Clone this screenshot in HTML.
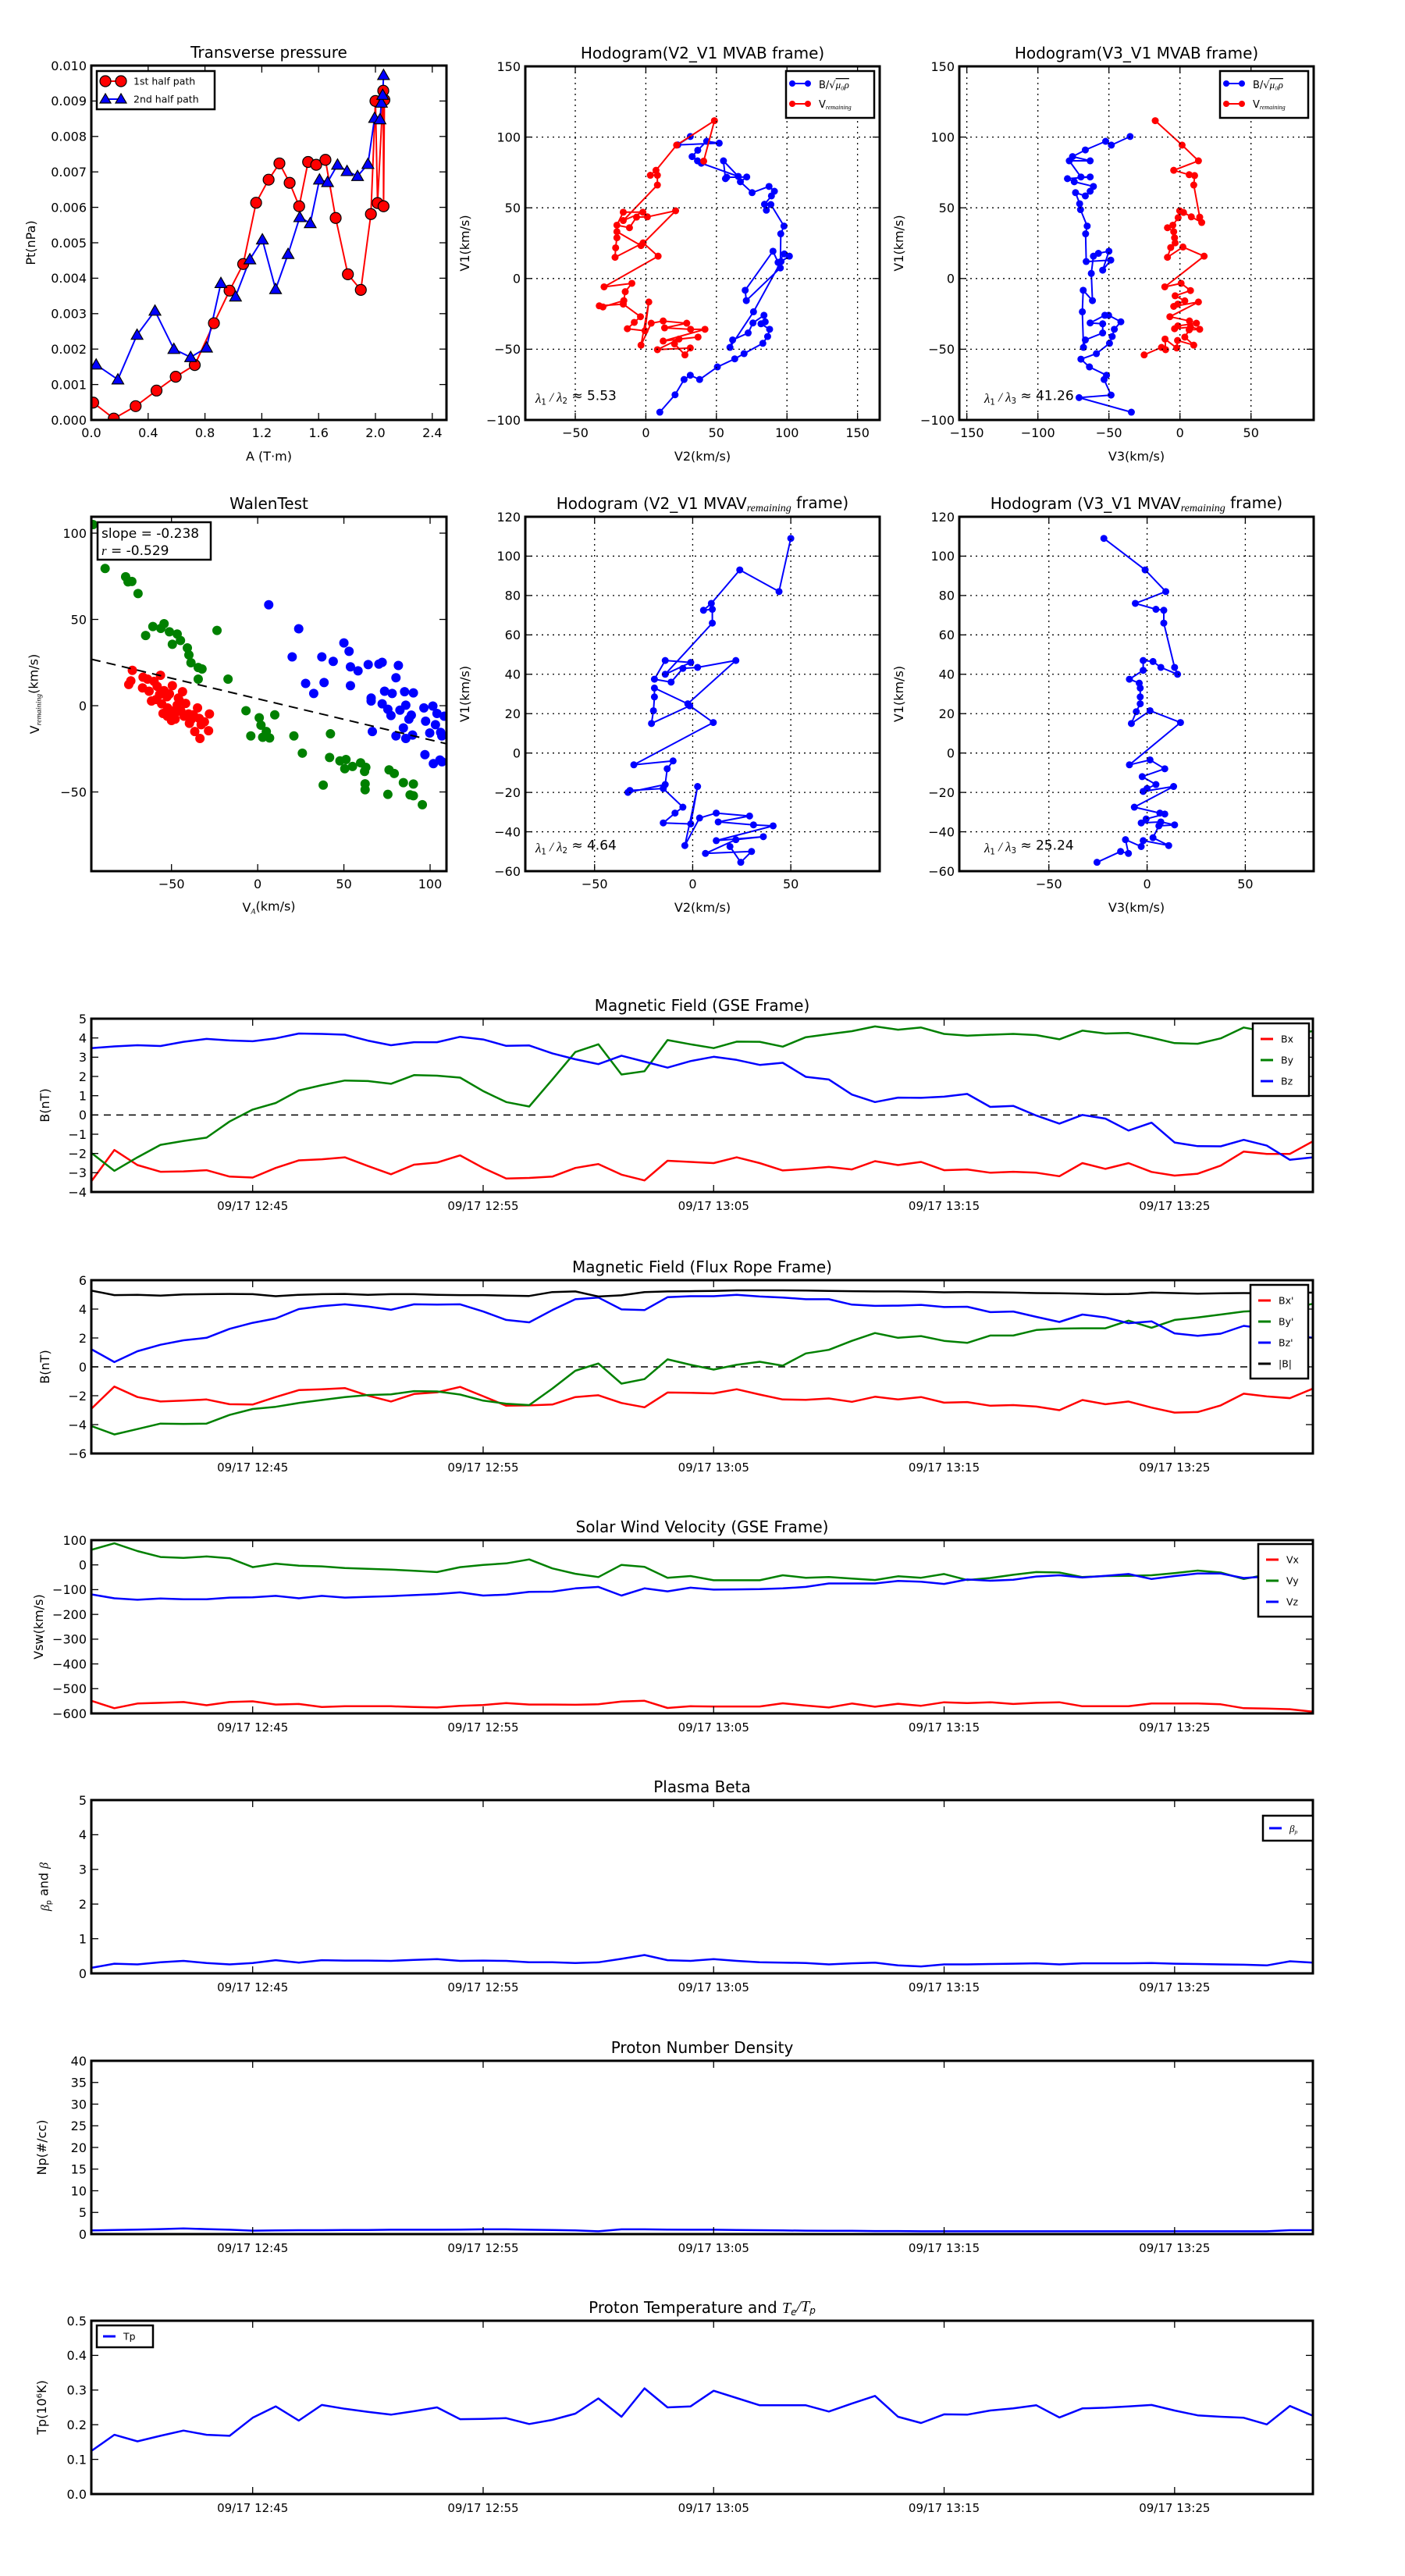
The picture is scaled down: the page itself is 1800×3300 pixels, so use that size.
<!DOCTYPE html>
<html><head><meta charset="utf-8"><title>Flux rope analysis</title>
<style>
html,body{margin:0;padding:0;background:#fff;}
svg{display:block;font-family:"DejaVu Sans","Liberation Sans",sans-serif;}
</style></head>
<body>
<svg id="fig" xmlns="http://www.w3.org/2000/svg" width="1800" height="3300" viewBox="0 0 1800 3300">
<rect x="0" y="0" width="1800" height="3300" fill="#fff"/>
</svg>
<script>
// ---------- Transverse pressure ----------
const ptRedA=[0.013,0.158,0.312,0.459,0.594,0.728,0.863,0.973,1.069,1.16,1.248,1.324,1.396,1.463,1.526,1.583,1.648,1.72,1.806,1.897,1.968,2.0,2.015,2.055,2.057,2.063];
const ptRedP=[0.00049,0.00004,0.00039,0.00083,0.00122,0.00155,0.00273,0.00365,0.0044,0.00613,0.00678,0.00724,0.00669,0.00603,0.00728,0.0072,0.00734,0.0057,0.00411,0.00367,0.00581,0.009,0.00612,0.00929,0.00603,0.00903];
const ptBlueA=[0.034,0.187,0.322,0.448,0.581,0.699,0.811,0.912,1.015,1.116,1.204,1.297,1.385,1.467,1.541,1.606,1.663,1.733,1.8,1.874,1.947,1.994,2.032,2.042,2.051,2.057];
const ptBlueP=[0.00156,0.00114,0.0024,0.00308,0.002,0.00177,0.00204,0.00386,0.00348,0.00453,0.00509,0.00369,0.00468,0.00572,0.00555,0.00678,0.00671,0.0072,0.00702,0.00688,0.00722,0.00852,0.00848,0.00895,0.00917,0.00973];
const ptXTicks=[0,0.4,0.8,1.2,1.6,2.0,2.4];
const ptXLabels=["0.0","0.4","0.8","1.2","1.6","2.0","2.4"];
const ptYTicks=[0,0.001,0.002,0.003,0.004,0.005,0.006,0.007,0.008,0.009,0.010];
const ptYLabels=["0.000","0.001","0.002","0.003","0.004","0.005","0.006","0.007","0.008","0.009","0.010"];

// ---------- Hodogram V2_V1 MVAB ----------
const h1BlueV2=[9.9,20.7,27.1,31.5,38.1,50.7,63,69.6,82.9,86.3,87.7,81.6,84.6,83.7,75.9,72.5,61.5,59.6,76.3,95.8,101.7,98.1,93.7,90.1,70.4,71.2,95.3,95.6,97.9,88.6,85.4,84.1,89,91.1,87.3,75.3,67,71.5,57.3,56.4,55,65.5,39.3,36.6,32.8,36.8,43.1,52,22.6,31.5];
const h1BlueV1=[-94.5,-82.2,-71.4,-68.4,-71.4,-62.5,-56.8,-53.1,-45.8,-41,-35.9,-32,-30.6,-26,-31.4,-38.5,-43.4,-48.7,-23.5,12,15.8,17.4,11.4,19.3,-8.3,-15.6,7.5,31.6,37.1,52.3,48.3,52.5,58.4,61.7,65.1,60.7,68.4,71.8,71.6,70.6,83.2,72.2,81.5,83.2,86.2,90.7,97,95.7,94.5,100.4];
const h1RedV2=[41,48.6,21.8,7.2,3.2,8.2,8.2,-16,-2.1,-16,-20.5,-11.6,-6.6,1.1,21.1,-3.4,-20.5,-20.5,-21.4,-21.8,-1.9,8.7,-29.6,-9.9,-14.6,-15.6,-30.4,-33,-16,-3.8,-8.2,-13.1,-0.6,2.1,-3.4,3.8,12.3,29,13.3,31.7,41.9,12.3,37,23.5,8.2,31.5,27.7,20.3];
const h1RedV1=[83,111.6,94.3,76.5,73,73,66.1,41,46.9,46.9,37.7,35.9,43.4,43.6,47.9,23.3,33.1,28.8,21.7,15,25.2,15.8,-5.9,-3.4,-9.3,-15.6,-20.1,-19.3,-18.1,-27,-31,-35.5,-36.9,-16.6,-47.1,-31.6,-30,-31.6,-34.9,-35.9,-35.9,-44.2,-41.4,-42.8,-50.3,-49.1,-54,-46.2];

// ---------- Hodogram V3_V1 MVAB ----------
const h2BlueV3=[-34.2,-71,-48.5,-53.4,-51.7,-63.7,-69.7,-58.8,-49.6,-47.7,-46.2,-41.6,-50.2,-52.9,-63.2,-54.4,-54.4,-66.6,-67.9,-68.7,-68.1,-61.6,-62.4,-60.9,-57.4,-50,-54.4,-48.7,-66,-66.4,-65.3,-70,-70.6,-73.5,-66.6,-63.2,-60.9,-74.4,-79.2,-63.2,-69.7,-77.9,-63.2,-75.6,-66.6,-52.3,-48.3,-35.1];
const h2BlueV1=[-94.5,-84.2,-82.4,-71.4,-68.4,-62.5,-57,-53.1,-45.8,-41,-35.9,-30.6,-26,-26,-31.4,-32,-38.5,-43.4,-48.7,-23.5,-8.3,-15.6,3.6,15.8,17.8,19.3,5.9,13,12,31.6,37.1,48.7,52.9,60.7,58.4,61.7,65.1,68.4,70.6,71.8,71.8,83.2,83.2,86.2,90.9,97,94.3,100.4];
const h2RedV3=[-17.4,1.5,13,-4.4,6.5,10.3,9.7,13.9,15.3,8,2.5,-0.2,-1.3,-5,-8.8,-4.4,-3.8,-3.4,-6.5,-8.8,2.1,17,-10.7,0.8,7.4,-3.4,3.4,-1.5,-4.4,13,-7.1,6.7,11.6,-1.5,-3.8,7.4,13.9,6.5,3.4,9.7,-1.7,-2.3,-10.5,-10.1,-13,-25.2];
const h2RedV1=[111.6,94.3,83.2,76.5,73.4,72.8,66.1,43.4,39.6,43.6,46.7,47.9,43,37.7,35.9,33.1,28.8,25.2,21.9,15,22.3,15.8,-5.9,-3.4,-8.5,-12.2,-15.8,-18.1,-19.7,-16.6,-27,-30,-31.6,-33.5,-35.5,-34.3,-35.9,-36.3,-41.4,-47.1,-43.8,-49.1,-42.8,-50.3,-48.7,-54];

// ---------- Walen test ----------
const walenGreenVA=[-95.5,-88.5,-76.6,-75.2,-73,-69.4,-65,-60.8,-56.2,-54.3,-51.2,-49.5,-46.7,-44.8,-40.8,-39.9,-38.7,-34.5,-32.3,-34.5,-23.6,-17.2,-6.8,-4,0.9,1.9,2.9,5,6.9,9.9,21,25.9,38,41.7,42.2,47.7,51.2,50.5,55,59.7,62.7,62,62.3,62.3,75.5,76.2,79.2,84.5,90.3,88.4,90.3,95.5];
const walenGreenVR=[105,79.5,74.7,71.8,72,65,40.7,45.9,44.8,47.5,42.8,35.6,41.5,37.8,33.5,29.4,24.9,22.1,21.3,15.4,43.6,15.4,-2.9,-17.5,-7,-11.3,-18.3,-15,-18.7,-5.3,-17.5,-27.5,-46,-30,-16.3,-32,-31.2,-36.5,-35.2,-33.1,-35.7,-38.1,-45.3,-48.7,-51.4,-37.2,-39.3,-44.6,-45.4,-51.7,-52.2,-57.4];
const walenBlueVA=[6.4,23.8,20,27.8,32.5,37.2,38.5,43.8,50,53,53.8,53.8,58.2,64.1,65.8,65.8,66.5,70.3,72.2,72.2,73.6,75.5,77.3,78,80.2,81.6,80.2,82.5,84.5,85.2,85.9,85.9,87.7,89.1,89.8,90.3,96.4,97,97.4,99.8,101.6,101.9,103.1,104,105.7,106.1,106.8,106.9,108.2];
const walenBlueVR=[58.5,44.6,28.3,12.9,7.1,28.3,13.4,25.7,36.4,31.5,22.5,11.6,20.2,23.8,4.4,2.7,-15,24.1,25.1,1.1,8.4,-2.1,-5.7,7.1,16.2,23.3,-17.5,-2.6,-12.9,8.1,0.3,-19,-7.8,-5.5,-17,7.4,-1.3,-28.4,-9,-15.8,-0.2,-33.6,-11,-4.5,-31.5,-15.5,-17.5,-32.5,-6.1];
const walenRedVA=[-72.7,-73.6,-74.8,-66.5,-63.9,-66.8,-63,-61.6,-60.1,-56.4,-58.3,-56.9,-55.7,-54.3,-52.6,-51.2,-49.5,-52.3,-50.5,-52.4,-50,-47.9,-46.7,-46,-43.6,-41.8,-44.6,-42.7,-40.1,-38.4,-37.3,-34.9,-33.9,-32.8,-36.5,-33.5,-30.9,-28,-28.5,-39.6,-47.9,-54.9,-58.9,-45.3];
const walenRedVR=[20.5,14.4,12.3,16.5,15.4,10.3,8.4,2.7,14.1,17.6,11.2,6.5,1.1,8.7,5.2,6.8,11.6,-1.3,-2.9,-6.1,-8.6,-4.5,0.3,4.4,8.1,1.3,-2.9,-6.1,-4.8,-7.8,-5.3,-1.3,-7.4,-11,-15,-19,-9.4,-4.8,-14.5,-10.2,-7.8,-4.5,3.6,2.7];
const walenSlope=-0.238;
const walenIntercept=4.0;
const walenTicks=[-50,0,50,100];

// ---------- Hodograms MVAV_remaining ----------
const h3V2=[50,44,24,9.5,5.5,10,10,-14,-1,-14,-19.5,-11,-5,2.5,22,-2.5,-19.5,-19.5,-20,-21,-1.5,10.5,-30,-10,-13,-14,-33,-32,-15,-5,-9,-15,-1,2.5,-4,3.5,12,29,13,31,41,12,36,22,6.5,30,24.5,19];
const h3V1=[109,82,93,76,72.5,73,66,40,46,47,37.5,36,43,43.5,47,25,33,28.5,21.5,15,24,15.5,-6,-4,-8,-16,-20,-19,-18,-27.5,-30.5,-35.5,-36,-17,-47,-33,-30.5,-32,-35,-36.5,-37,-44.5,-42.5,-44,-51,-50,-55.5,-47.5];
const h4V3=[-22,-1,9.5,-6,4.5,8.5,8.5,14,15.5,7,3,-2,-2,-9,-4,-3.5,-3.5,-3.5,-5.5,-8,1.5,17,-9,1.5,9,-2.5,4.5,0,-2,13.5,-6.5,6.5,9,-0.5,-3,7,14,6,3,11,-2,-3,-11,-9.5,-13.5,-25.5];
const h4V1=[109,93,82,76,73,72.5,66,43.5,40,43.5,46.5,47,42,37.5,35.5,33,28.5,25,21,15,21.5,15.5,-6,-3.5,-8,-12,-16,-18,-19.5,-17,-27.5,-30.5,-31,-33.5,-35.5,-35,-36.5,-37,-43,-47,-44.5,-47.5,-44,-51,-50,-55.5];

// ---------- Time series (1-min samples, 12:38 - 13:31) ----------
const timeTickIdx=[7,17,27,37,47];
const timeTickLabels=["09/17 12:45","09/17 12:55","09/17 13:05","09/17 13:15","09/17 13:25"];
const gseBx=[-3.45,-1.82,-2.6,-2.95,-2.93,-2.87,-3.2,-3.25,-2.75,-2.36,-2.3,-2.2,-2.65,-3.08,-2.58,-2.47,-2.1,-2.75,-3.3,-3.27,-3.2,-2.75,-2.55,-3.1,-3.4,-2.38,-2.44,-2.5,-2.2,-2.5,-2.88,-2.8,-2.7,-2.83,-2.4,-2.6,-2.44,-2.87,-2.83,-3.0,-2.95,-3.0,-3.18,-2.5,-2.8,-2.5,-2.96,-3.15,-3.05,-2.63,-1.9,-2.02,-2.02,-1.37];
const gseBy=[-1.97,-2.9,-2.2,-1.55,-1.35,-1.18,-0.34,0.28,0.62,1.27,1.55,1.79,1.76,1.62,2.07,2.04,1.94,1.24,0.67,0.44,1.84,3.27,3.67,2.1,2.27,3.89,3.67,3.47,3.81,3.8,3.55,4.04,4.2,4.35,4.6,4.43,4.54,4.21,4.12,4.17,4.21,4.15,3.93,4.38,4.23,4.26,4.01,3.73,3.7,3.98,4.54,4.32,4.21,4.35];
const gseBz=[3.47,3.56,3.62,3.58,3.8,3.95,3.87,3.83,3.98,4.23,4.21,4.17,3.86,3.62,3.78,3.78,4.06,3.92,3.59,3.61,3.2,2.89,2.64,3.08,2.77,2.46,2.8,3.02,2.86,2.6,2.71,1.98,1.84,1.06,0.67,0.9,0.89,0.95,1.09,0.42,0.47,-0.03,-0.45,0,-0.19,-0.81,-0.4,-1.43,-1.62,-1.63,-1.29,-1.59,-2.33,-2.2];
const frBx=[-2.9,-1.37,-2.09,-2.4,-2.34,-2.26,-2.59,-2.61,-2.09,-1.61,-1.55,-1.47,-1.99,-2.4,-1.88,-1.76,-1.39,-2.03,-2.69,-2.67,-2.61,-2.09,-1.97,-2.5,-2.8,-1.78,-1.8,-1.84,-1.55,-1.92,-2.26,-2.28,-2.19,-2.42,-2.07,-2.26,-2.09,-2.48,-2.44,-2.69,-2.65,-2.75,-3.0,-2.3,-2.59,-2.4,-2.82,-3.17,-3.13,-2.67,-1.86,-2.05,-2.17,-1.51];
const frBy=[-4.1,-4.68,-4.31,-3.93,-3.95,-3.93,-3.33,-2.92,-2.77,-2.5,-2.3,-2.09,-1.95,-1.9,-1.68,-1.7,-1.92,-2.34,-2.55,-2.65,-1.51,-0.27,0.23,-1.16,-0.85,0.52,0.14,-0.19,0.14,0.35,0.08,0.93,1.18,1.8,2.34,2.01,2.13,1.8,1.66,2.17,2.17,2.55,2.65,2.67,2.67,3.2,2.71,3.25,3.42,3.62,3.83,3.91,4.04,4.37];
const frBz=[1.22,0.33,1.08,1.53,1.84,2.01,2.63,3.05,3.35,4.0,4.2,4.33,4.18,3.95,4.33,4.31,4.33,3.83,3.25,3.08,3.93,4.68,4.8,3.98,3.93,4.82,4.89,4.89,4.99,4.87,4.8,4.68,4.68,4.31,4.22,4.24,4.29,4.14,4.16,3.79,3.83,3.46,3.11,3.62,3.42,3.02,3.15,2.32,2.15,2.3,2.84,2.63,2.2,2.01];
const frBt=[5.28,4.97,4.99,4.93,5.01,5.03,5.05,5.03,4.89,4.99,5.03,5.05,4.99,5.03,5.03,4.99,4.97,4.97,4.93,4.91,5.18,5.22,4.87,4.95,5.18,5.22,5.24,5.26,5.3,5.3,5.3,5.28,5.26,5.24,5.22,5.22,5.2,5.16,5.18,5.16,5.14,5.11,5.09,5.07,5.03,5.05,5.14,5.11,5.07,5.09,5.11,5.1,5.12,5.14];
const swVx=[-549,-579,-560,-557,-554,-567,-554,-551,-564,-562,-574,-571,-571,-571,-574,-576,-569,-566,-558,-564,-564,-565,-563,-552,-549,-578,-571,-572,-572,-572,-559,-568,-576,-560,-573,-561,-569,-555,-558,-555,-562,-557,-555,-571,-571,-571,-560,-560,-560,-563,-579,-580,-583,-593];
const swVy=[61,87,56,32,28,34,27,-9,5,-3,-6,-13,-16,-19,-24,-29,-9,0,6,22,-14,-36,-49,0,-8,-52,-45,-62,-62,-62,-42,-52,-49,-55,-61,-46,-52,-37,-61,-53,-40,-29,-31,-49,-45,-44,-42,-33,-23,-31,-57,-39,-44,-46];
const swVz=[-119,-135,-141,-136,-139,-139,-132,-131,-125,-135,-125,-132,-129,-126,-122,-118,-111,-124,-120,-109,-108,-95,-89,-124,-95,-107,-92,-100,-99,-98,-95,-89,-75,-75,-75,-65,-68,-77,-59,-64,-60,-47,-42,-51,-44,-37,-57,-45,-35,-35,-53,-47,-39,-34];
const betaP=[0.16,0.28,0.26,0.32,0.36,0.30,0.26,0.30,0.38,0.31,0.38,0.37,0.37,0.36,0.39,0.41,0.36,0.37,0.36,0.32,0.32,0.30,0.32,0.42,0.53,0.38,0.36,0.41,0.36,0.32,0.31,0.30,0.26,0.29,0.31,0.23,0.20,0.26,0.26,0.27,0.28,0.29,0.26,0.29,0.29,0.29,0.30,0.28,0.27,0.26,0.25,0.23,0.35,0.31];
const densNp=[0.85,0.95,1.05,1.15,1.3,1.15,1.0,0.8,0.85,0.9,0.9,0.95,0.95,1.0,1.0,1.0,1.05,1.1,1.1,1.0,0.95,0.85,0.65,1.1,1.1,1.05,1.0,1.0,0.95,0.9,0.85,0.8,0.75,0.75,0.7,0.7,0.65,0.65,0.65,0.65,0.65,0.65,0.65,0.65,0.65,0.65,0.65,0.65,0.65,0.65,0.65,0.65,0.9,0.9];
const tempTp=[0.124,0.171,0.152,0.168,0.183,0.171,0.168,0.220,0.253,0.212,0.257,0.246,0.237,0.229,0.239,0.250,0.216,0.217,0.219,0.202,0.214,0.232,0.276,0.223,0.305,0.250,0.253,0.298,0.277,0.256,0.256,0.256,0.238,0.261,0.283,0.223,0.205,0.230,0.229,0.241,0.247,0.256,0.221,0.247,0.249,0.253,0.257,0.241,0.227,0.223,0.220,0.201,0.254,0.226];

// ================= drawing =================
const NS='http://www.w3.org/2000/svg';
const svg=document.getElementById('fig');
const FONT='"DejaVu Sans","Liberation Sans",sans-serif';
let clipN=0;
function mk(tag,attrs,parent){const e=document.createElementNS(NS,tag);for(const k in attrs)e.setAttribute(k,attrs[k]);(parent||svg).appendChild(e);return e;}
function txt(s,attrs,parent){const e=mk('text',Object.assign({'font-family':FONT,fill:'#000'},attrs),parent);e.textContent=s;return e;}
function sub(textEl,main,subs){ // main text followed by small italic subscript
  const t1=document.createElementNS(NS,'tspan');t1.textContent=main;textEl.appendChild(t1);
  const t2=document.createElementNS(NS,'tspan');t2.textContent=subs;t2.setAttribute('font-family','"Liberation Serif",serif');t2.setAttribute('font-style','italic');t2.setAttribute('font-size','0.62em');t2.setAttribute('dy','0.25em');textEl.appendChild(t2);
  const t3=document.createElementNS(NS,'tspan');t3.setAttribute('dy','-0.25em');t3.textContent='\u200b';textEl.appendChild(t3);
}

function makeAxes(name,box,xr,yr){
  const g=mk('g',{});
  
  
  const sx=v=>box.x+(v-xr[0])/(xr[1]-xr[0])*box.w;
  const sy=v=>box.y+box.h-(v-yr[0])/(yr[1]-yr[0])*box.h;
  const id='clip'+(clipN++);
  const cp=mk('clipPath',{id:id},g);
  mk('rect',{x:box.x,y:box.y,width:box.w,height:box.h},cp);
  const data=mk('g',{'clip-path':'url(#'+id+')'},g);
  return {g,data,sx,sy,box,xr,yr};
}
function frame(ax){
  const r=mk('rect',{x:ax.box.x,y:ax.box.y,width:ax.box.w,height:ax.box.h,fill:'none',stroke:'#000','stroke-width':3},ax.g);
  
  
}
function xTicks(ax,vals,labels,fs,grid,labOff){
  const b=ax.box;
  vals.forEach((v,i)=>{
    const x=ax.sx(v);
    if(grid) mk('line',{x1:x,y1:b.y,x2:x,y2:b.y+b.h,stroke:'#000','stroke-width':1.3,'stroke-dasharray':'2,5'},ax.g);
    mk('line',{x1:x,y1:b.y+b.h,x2:x,y2:b.y+b.h-9,stroke:'#000','stroke-width':1.3},ax.g);
    mk('line',{x1:x,y1:b.y,x2:x,y2:b.y+9,stroke:'#000','stroke-width':1.3},ax.g);
    const t=txt(labels[i].replace('-','\u2212'),{x:x,y:b.y+b.h+(labOff||24),'font-size':fs,'text-anchor':'middle'},ax.g);
    
    
  });
}
function yTicks(ax,vals,labels,fs,grid){
  const b=ax.box;
  vals.forEach((v,i)=>{
    const y=ax.sy(v);
    if(grid) mk('line',{x1:b.x,y1:y,x2:b.x+b.w,y2:y,stroke:'#000','stroke-width':1.3,'stroke-dasharray':'2,5'},ax.g);
    mk('line',{x1:b.x,y1:y,x2:b.x+9,y2:y,stroke:'#000','stroke-width':1.3},ax.g);
    mk('line',{x1:b.x+b.w,y1:y,x2:b.x+b.w-9,y2:y,stroke:'#000','stroke-width':1.3},ax.g);
    const t=txt(labels[i].replace('-','\u2212'),{x:b.x-6,y:y+fs*0.36,'font-size':fs,'text-anchor':'end'},ax.g);
    
    
  });
}
function title(ax,s,fs,off){
  const t=txt(s,{x:ax.box.x+ax.box.w/2,y:ax.box.y-(off||9),'font-size':fs,'text-anchor':'middle'},ax.g);
  
  
  return t;
}
function ylab(ax,s,fs,dx){
  const x=ax.box.x-dx, y=ax.box.y+ax.box.h/2;
  const t=txt(s,{x:x,y:y,'font-size':fs,'text-anchor':'middle',transform:'rotate(-90 '+x+' '+y+')'},ax.g);
  
  
  return t;
}
function xlab(ax,s,fs,dy){
  const t=txt(s,{x:ax.box.x+ax.box.w/2,y:ax.box.y+ax.box.h+dy,'font-size':fs,'text-anchor':'middle'},ax.g);
  
  
  return t;
}
function line(ax,xs,ys,color,w,name){
  const pts=xs.map((x,i)=>ax.sx(x).toFixed(1)+','+ax.sy(ys[i]).toFixed(1)).join(' ');
  const p=mk('polyline',{points:pts,fill:'none',stroke:color,'stroke-width':w,'stroke-linejoin':'round'},ax.data);
  
  
  return p;
}
function dots(ax,xs,ys,color,r,name,edge){
  const g=mk('g',{},ax.data);
  
  
  xs.forEach((x,i)=>{
    const c=mk('circle',{cx:ax.sx(x),cy:ax.sy(ys[i]),r:r,fill:color,stroke:edge||color,'stroke-width':edge?1.2:0},g);
    
    
  });
}
function tris(ax,xs,ys,color,r,name){
  const g=mk('g',{},ax.data);
  
  
  xs.forEach((x,i)=>{
    const cx=ax.sx(x),cy=ax.sy(ys[i]);
    const p=mk('polygon',{points:`${cx},${cy-r} ${cx-r},${cy+r*0.75} ${cx+r},${cy+r*0.75}`,fill:color,stroke:'#000','stroke-width':1.2},g);
    
    
  });
}
function legendBox(ax,x,y,w,h){
  const r=mk('rect',{x:x,y:y,width:w,height:h,fill:'#fff',stroke:'#000','stroke-width':2.5},ax.g);
  
  
}
function legLine(ax,x,y,len,color,w,marker){
  const l=mk('line',{x1:x,y1:y,x2:x+len,y2:y,stroke:color,'stroke-width':w},ax.g);
  
  
  if(marker==='dot'){mk('circle',{cx:x,cy:y,r:4,fill:color},ax.g);mk('circle',{cx:x+len,cy:y,r:4,fill:color},ax.g);}
  if(marker==='bigdot'){mk('circle',{cx:x,cy:y,r:7,fill:color,stroke:'#000','stroke-width':1.2},ax.g);mk('circle',{cx:x+len,cy:y,r:7,fill:color,stroke:'#000','stroke-width':1.2},ax.g);}
  if(marker==='tri'){[x,x+len].forEach(cx=>mk('polygon',{points:`${cx},${y-7} ${cx-7},${y+5} ${cx+7},${y+5}`,fill:color,stroke:'#000','stroke-width':1.2},ax.g));}
}
function legText(ax,s,x,y,fs){
  const t=txt(s,{x:x,y:y+fs*0.35,'font-size':fs},ax.g);
  
  
  return t;
}

// ---------- Panel 1: Transverse pressure ----------
(function(){
  const ax=makeAxes('transverse-pressure-chart',{x:117,y:84,w:455,h:454},[0,2.5],[0,0.010]);
  xTicks(ax,ptXTicks,ptXLabels,16,false,22);
  yTicks(ax,ptYTicks,ptYLabels,16,false);
  line(ax,ptRedA,ptRedP,'#ff0000',2,'first-half-path-line');
  line(ax,ptBlueA,ptBlueP,'#0000ff',2,'second-half-path-line');
  dots(ax,ptRedA,ptRedP,'#ff0000',7,'first-half-path','#000');
  tris(ax,ptBlueA,ptBlueP,'#0000ff',7.5,'second-half-path');
  frame(ax);
  title(ax,'Transverse pressure',20,10);
  ylab(ax,'Pt(nPa)',16,72);
  xlab(ax,'A (T\u00b7m)',16,52);
  legendBox(ax,124,91,151,49);
  legLine(ax,135,104,20,'#ff0000',2,'bigdot');legText(ax,'1st half path',171,104,12.5);
  legLine(ax,135,127,20,'#0000ff',2,'tri');legText(ax,'2nd half path',171,127,12.5);
})();

// ---------- Hodogram helpers ----------
function hodoLegend(ax,x,y){
  legendBox(ax,x,y,113,60);
  legLine(ax,x+8,y+16,20,'#0000ff',2,'dot');
  const t1=txt('',{x:x+42,y:y+22,'font-size':13},ax.g);
  
  
  t1.textContent='B/\u221a';
  const ts=document.createElementNS(NS,'tspan');ts.setAttribute('font-family','"Liberation Serif",serif');ts.setAttribute('font-style','italic');ts.setAttribute('text-decoration','overline');ts.textContent='\u03bc\u2080\u03c1';t1.appendChild(ts);
  legLine(ax,x+8,y+42,20,'#ff0000',2,'dot');
  const t2=txt('',{x:x+42,y:y+47,'font-size':13},ax.g);
  
  
  sub(t2,'V','remaining');
}
function lambdaText(ax,x,y,num,den,val){
  const t=txt('',{x:x,y:y,'font-size':17},ax.g);
  
  
  const a=document.createElementNS(NS,'tspan');a.setAttribute('font-family','"Liberation Serif",serif');a.setAttribute('font-style','italic');a.textContent='\u03bb';t.appendChild(a);
  const b=document.createElementNS(NS,'tspan');b.setAttribute('font-size','0.6em');b.setAttribute('dy','0.25em');b.textContent=num;t.appendChild(b);
  const c=document.createElementNS(NS,'tspan');c.setAttribute('dy','-0.25em');c.setAttribute('font-family','"Liberation Serif",serif');c.setAttribute('font-style','italic');c.textContent=' / \u03bb';t.appendChild(c);
  const d=document.createElementNS(NS,'tspan');d.setAttribute('font-size','0.6em');d.setAttribute('dy','0.25em');d.textContent=den;t.appendChild(d);
  const e=document.createElementNS(NS,'tspan');e.setAttribute('dy','-0.25em');e.textContent=' \u2248 '+val;t.appendChild(e);
}

// ---------- Panel 2: Hodogram V2_V1 MVAB ----------
(function(){
  const ax=makeAxes('hodogram-v2-v1-mvab',{x:673,y:85,w:454,h:453},[-85.4,165.7],[-100,150]);
  xTicks(ax,[-50,0,50,100,150],["-50","0","50","100","150"],16,true,22);
  yTicks(ax,[-100,-50,0,50,100,150],["-100","-50","0","50","100","150"],16,true);
  line(ax,h1BlueV2,h1BlueV1,'#0000ff',2,'b-alfven-path');
  dots(ax,h1BlueV2,h1BlueV1,'#0000ff',4.5,'b-alfven');
  line(ax,h1RedV2,h1RedV1,'#ff0000',2,'v-remaining-path');
  dots(ax,h1RedV2,h1RedV1,'#ff0000',4.5,'v-remaining');
  frame(ax);
  title(ax,'Hodogram(V2_V1 MVAB frame)',20,10);
  ylab(ax,'V1(km/s)',16,72);
  xlab(ax,'V2(km/s)',16,52);
  hodoLegend(ax,1007,91);
  lambdaText(ax,686,516,'1','2','5.53');
})();

// ---------- Panel 3: Hodogram V3_V1 MVAB ----------
(function(){
  const ax=makeAxes('hodogram-v3-v1-mvab',{x:1229,y:85,w:454,h:453},[-155.3,94.1],[-100,150]);
  xTicks(ax,[-150,-100,-50,0,50],["-150","-100","-50","0","50"],16,true,22);
  yTicks(ax,[-100,-50,0,50,100,150],["-100","-50","0","50","100","150"],16,true);
  line(ax,h2BlueV3,h2BlueV1,'#0000ff',2,'b-alfven-path');
  dots(ax,h2BlueV3,h2BlueV1,'#0000ff',4.5,'b-alfven');
  line(ax,h2RedV3,h2RedV1,'#ff0000',2,'v-remaining-path');
  dots(ax,h2RedV3,h2RedV1,'#ff0000',4.5,'v-remaining');
  frame(ax);
  title(ax,'Hodogram(V3_V1 MVAB frame)',20,10);
  ylab(ax,'V1(km/s)',16,72);
  xlab(ax,'V3(km/s)',16,52);
  hodoLegend(ax,1563,91);
  lambdaText(ax,1261,516,'1','3','41.26');
})();

// ---------- Panel 4: Walen test ----------
(function(){
  const ax=makeAxes('walen-test-chart',{x:117,y:662,w:455,h:454},[-96.5,109.5],[-95.9,109.5]);
  xTicks(ax,walenTicks,walenTicks.map(String),16,false,22);
  yTicks(ax,walenTicks,walenTicks.map(String),16,false);
  dots(ax,walenGreenVA,walenGreenVR,'#008000',6,'walen-green');
  dots(ax,walenBlueVA,walenBlueVR,'#0000ff',6,'walen-blue');
  dots(ax,walenRedVA,walenRedVR,'#ff0000',6,'walen-red');
  const fit=mk('line',{x1:ax.sx(ax.xr[0]),y1:ax.sy(walenIntercept+walenSlope*ax.xr[0]),x2:ax.sx(ax.xr[1]),y2:ax.sy(walenIntercept+walenSlope*ax.xr[1]),stroke:'#000','stroke-width':2,'stroke-dasharray':'12,8'},ax.data);
  
  
  frame(ax);
  title(ax,'WalenTest',20,10);
  const yl=ylab(ax,'',16,67);
  sub(yl,'V','remaining');
  yl.appendChild(Object.assign(document.createElementNS(NS,'tspan'),{textContent:'(km/s)'}));
  const xl=xlab(ax,'',16,52);
  sub(xl,'V','A');
  xl.appendChild(Object.assign(document.createElementNS(NS,'tspan'),{textContent:'(km/s)'}));
  legendBox(ax,125,669,145,48);
  const s1=txt('slope = -0.238',{x:130,y:689,'font-size':17},ax.g);
  
  
  const s2=txt('',{x:130,y:711,'font-size':17},ax.g);
  
  
  const ri=document.createElementNS(NS,'tspan');ri.setAttribute('font-family','"Liberation Serif",serif');ri.setAttribute('font-style','italic');ri.textContent='r';s2.appendChild(ri);
  const rv=document.createElementNS(NS,'tspan');rv.textContent=' = -0.529';s2.appendChild(rv);
})();

// ---------- Panel 5: Hodogram V2_V1 MVAV ----------
(function(){
  const ax=makeAxes('hodogram-v2-v1-mvav',{x:673,y:662,w:454,h:454},[-85.3,95.3],[-60,120]);
  xTicks(ax,[-50,0,50],["-50","0","50"],16,true,22);
  yTicks(ax,[-60,-40,-20,0,20,40,60,80,100,120],["-60","-40","-20","0","20","40","60","80","100","120"],16,true);
  line(ax,h3V2,h3V1,'#0000ff',2,'v-remaining-path');
  dots(ax,h3V2,h3V1,'#0000ff',4.5,'v-remaining');
  frame(ax);
  const t=title(ax,'',20,10);
  t.textContent='Hodogram (V2_V1 MVAV';
  const s=document.createElementNS(NS,'tspan');s.setAttribute('font-family','"Liberation Serif",serif');s.setAttribute('font-style','italic');s.setAttribute('font-size','0.7em');s.setAttribute('dy','0.2em');s.textContent='remaining';t.appendChild(s);
  const r=document.createElementNS(NS,'tspan');r.setAttribute('dy','-0.2em');r.textContent=' frame)';t.appendChild(r);
  ylab(ax,'V1(km/s)',16,72);
  xlab(ax,'V2(km/s)',16,52);
  lambdaText(ax,686,1092,'1','2','4.64');
})();

// ---------- Panel 6: Hodogram V3_V1 MVAV ----------
(function(){
  const ax=makeAxes('hodogram-v3-v1-mvav',{x:1229,y:662,w:454,h:454},[-95.6,84.8],[-60,120]);
  xTicks(ax,[-50,0,50],["-50","0","50"],16,true,22);
  yTicks(ax,[-60,-40,-20,0,20,40,60,80,100,120],["-60","-40","-20","0","20","40","60","80","100","120"],16,true);
  line(ax,h4V3,h4V1,'#0000ff',2,'v-remaining-path');
  dots(ax,h4V3,h4V1,'#0000ff',4.5,'v-remaining');
  frame(ax);
  const t=title(ax,'',20,10);
  t.textContent='Hodogram (V3_V1 MVAV';
  const s=document.createElementNS(NS,'tspan');s.setAttribute('font-family','"Liberation Serif",serif');s.setAttribute('font-style','italic');s.setAttribute('font-size','0.7em');s.setAttribute('dy','0.2em');s.textContent='remaining';t.appendChild(s);
  const r=document.createElementNS(NS,'tspan');r.setAttribute('dy','-0.2em');r.textContent=' frame)';t.appendChild(r);
  ylab(ax,'V1(km/s)',16,72);
  xlab(ax,'V3(km/s)',16,52);
  lambdaText(ax,1261,1092,'1','3','25.24');
})();

// ---------- Time series panels ----------
function idx(arr){return arr.map((_,i)=>i);}
function tsPanel(name,top,yr,yt,ylabels){
  const ax=makeAxes(name,{x:117,y:top,w:1565,h:222},[0,53],yr);
  xTicks(ax,timeTickIdx,timeTickLabels,15,false,23);
  yTicks(ax,yt,ylabels,16,false);
  return ax;
}
function zeroLine(ax){
  const z=mk('line',{x1:ax.box.x,y1:ax.sy(0),x2:ax.box.x+ax.box.w,y2:ax.sy(0),stroke:'#000','stroke-width':1.5,'stroke-dasharray':'9,7'},ax.data);
  
  
}
function tsLegend(ax,x,y,w,entries){
  const h=entries.length*27+12;
  legendBox(ax,x,y,w,h);
  entries.forEach((e,i)=>{
    const yy=y+20+i*27;
    legLine(ax,x+10,yy,16,e[1],3);
    legText(ax,e[0],x+36,yy,12.5);
  });
}

// GSE
(function(){
  const ax=tsPanel('magnetic-field-gse-chart',1305,[-4,5],[-4,-3,-2,-1,0,1,2,3,4,5],["-4","-3","-2","-1","0","1","2","3","4","5"]);
  zeroLine(ax);
  line(ax,idx(gseBx),gseBx,'#ff0000',2.5,'bx-line');
  line(ax,idx(gseBy),gseBy,'#008000',2.5,'by-line');
  line(ax,idx(gseBz),gseBz,'#0000ff',2.5,'bz-line');
  frame(ax);
  title(ax,'Magnetic Field (GSE Frame)',20,10);
  ylab(ax,'B(nT)',16,54);
  tsLegend(ax,1605,1311,72,[['Bx','#ff0000'],['By','#008000'],['Bz','#0000ff']]);
})();
// Flux rope
(function(){
  const ax=tsPanel('magnetic-field-flux-rope-chart',1640,[-6,6],[-6,-4,-2,0,2,4,6],["-6","-4","-2","0","2","4","6"]);
  zeroLine(ax);
  line(ax,idx(frBx),frBx,'#ff0000',2.5,'bx-prime-line');
  line(ax,idx(frBy),frBy,'#008000',2.5,'by-prime-line');
  line(ax,idx(frBz),frBz,'#0000ff',2.5,'bz-prime-line');
  line(ax,idx(frBt),frBt,'#000000',2.5,'b-magnitude-line');
  frame(ax);
  title(ax,'Magnetic Field (Flux Rope Frame)',20,10);
  ylab(ax,'B(nT)',16,54);
  tsLegend(ax,1602,1646,74,[["Bx'",'#ff0000'],["By'",'#008000'],["Bz'",'#0000ff'],['|B|','#000000']]);
})();
// Solar wind
(function(){
  const ax=tsPanel('solar-wind-velocity-chart',1973,[-600,100],[-600,-500,-400,-300,-200,-100,0,100],["-600","-500","-400","-300","-200","-100","0","100"]);
  line(ax,idx(swVx),swVx,'#ff0000',2.5,'vx-line');
  line(ax,idx(swVy),swVy,'#008000',2.5,'vy-line');
  line(ax,idx(swVz),swVz,'#0000ff',2.5,'vz-line');
  frame(ax);
  title(ax,'Solar Wind Velocity (GSE Frame)',20,10);
  ylab(ax,'Vsw(km/s)',16,62);
  tsLegend(ax,1612,1978,70,[['Vx','#ff0000'],['Vy','#008000'],['Vz','#0000ff']]);
})();
// Beta
(function(){
  const ax=tsPanel('plasma-beta-chart',2306,[0,5],[0,1,2,3,4,5],["0","1","2","3","4","5"]);
  line(ax,idx(betaP),betaP,'#0000ff',2.5,'beta-p-line');
  frame(ax);
  title(ax,'Plasma Beta',20,10);
  const yl=ylab(ax,'',16,54);
  const a=document.createElementNS(NS,'tspan');a.setAttribute('font-family','"Liberation Serif",serif');a.setAttribute('font-style','italic');a.textContent='\u03b2';yl.appendChild(a);
  const b=document.createElementNS(NS,'tspan');b.setAttribute('font-size','0.6em');b.setAttribute('dy','0.25em');b.textContent='p';yl.appendChild(b);
  const c=document.createElementNS(NS,'tspan');c.setAttribute('dy','-0.25em');c.textContent=' and ';yl.appendChild(c);
  const d=document.createElementNS(NS,'tspan');d.setAttribute('font-family','"Liberation Serif",serif');d.setAttribute('font-style','italic');d.textContent='\u03b2';yl.appendChild(d);
  legendBox(ax,1618,2326,64,32);
  legLine(ax,1626,2342,16,'#0000ff',3);
  const lt=txt('',{x:1652,y:2347,'font-size':13,'font-family':'"Liberation Serif",serif','font-style':'italic'},ax.g);
  
  
  lt.textContent='\u03b2';
  const lp=document.createElementNS(NS,'tspan');lp.setAttribute('font-size','0.6em');lp.setAttribute('dy','0.25em');lp.textContent='p';lt.appendChild(lp);
})();
// Density
(function(){
  const ax=tsPanel('proton-density-chart',2640,[0,40],[0,5,10,15,20,25,30,35,40],["0","5","10","15","20","25","30","35","40"]);
  line(ax,idx(densNp),densNp,'#0000ff',2.5,'np-line');
  frame(ax);
  title(ax,'Proton Number Density',20,10);
  ylab(ax,'Np(#/cc)',16,58);
})();
// Temperature
(function(){
  const ax=tsPanel('proton-temperature-chart',2973,[0,0.5],[0,0.1,0.2,0.3,0.4,0.5],["0.0","0.1","0.2","0.3","0.4","0.5"]);
  line(ax,idx(tempTp),tempTp,'#0000ff',2.5,'tp-line');
  frame(ax);
  const t=title(ax,'Proton Temperature and ',20,10);
  const a=document.createElementNS(NS,'tspan');a.setAttribute('font-family','"Liberation Serif",serif');a.setAttribute('font-style','italic');a.textContent='T';t.appendChild(a);
  const b=document.createElementNS(NS,'tspan');b.setAttribute('font-size','0.6em');b.setAttribute('dy','0.25em');b.setAttribute('font-style','italic');b.textContent='e';t.appendChild(b);
  const c=document.createElementNS(NS,'tspan');c.setAttribute('dy','-0.25em');c.setAttribute('font-family','"Liberation Serif",serif');c.setAttribute('font-style','italic');c.textContent='/T';t.appendChild(c);
  const d=document.createElementNS(NS,'tspan');d.setAttribute('font-size','0.6em');d.setAttribute('dy','0.25em');d.setAttribute('font-style','italic');d.textContent='p';t.appendChild(d);
  ylab(ax,'Tp(10\u2076K)',16,58);
  legendBox(ax,124,2979,72,28);
  legLine(ax,132,2993,16,'#0000ff',3);
  legText(ax,'Tp',158,2993,12.5);
})();
</script>
</body></html>
